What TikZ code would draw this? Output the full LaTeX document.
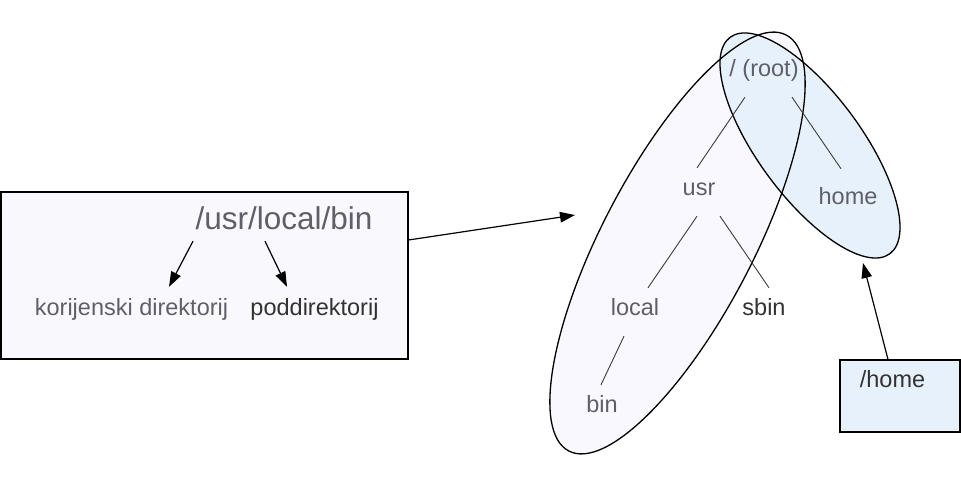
\documentclass[tikz,border=0pt]{standalone}
\usepackage{fontspec}
\setmainfont{Liberation Sans}
\usetikzlibrary{shapes.geometric, arrows.meta, positioning}
\definecolor{boxfill}{RGB}{249, 249, 253}
\definecolor{setfill}{RGB}{248, 248, 254}
\definecolor{rootfill}{RGB}{231, 241, 252}
\definecolor{labelgray}{RGB}{95, 95, 105}
\definecolor{darktext}{RGB}{50, 50, 50}
\definecolor{treegray}{RGB}{60, 60, 60}
\tikzset{
    boxnode/.style = {draw, rectangle, line width=1.1pt, inner sep=0pt},
    ellipsenode/.style = {draw, ellipse, line width=1.3pt, inner sep=0pt},
    titlenode/.style = {anchor=base, inner sep=0pt, text height=22pt, text depth=11pt,
      font=\fontsize{31.5}{38}\selectfont, text=labelgray},
    labelnode/.style = {anchor=base, inner sep=0pt, text height=29pt, text depth=6pt,
      font=\fontsize{23.5}{28}\selectfont, text=labelgray},
    treenode/.style = {anchor=base, inner sep=0pt, text height=28pt, text depth=20pt,
      font=\fontsize{23.5}{28}\selectfont, text=labelgray},
    connect/.style = {black, line width=1.2pt, -{Triangle[length=15pt, width=10.5pt]}},
    branch/.style = {treegray, line width=0.9pt}
}

\begin{document}
\begin{tikzpicture}[x=1pt, y=1pt]
\useasboundingbox (0,0) rectangle (961,486);
% left box with the path
\node [name=pathbox, boxnode, fill=boxfill, minimum width=407pt, minimum height=167pt] at (204.5,210.5) {};
\node [name=title, titlenode] at (284,256) {/usr/local/bin};
\node [name=rootdir, labelnode] at (131.5,170) {korijenski direktorij};
\node [name=subdir, labelnode, text=darktext] at (314.5,170) {poddirektorij};
\draw [connect] ([xshift=-91pt]title.south) -- ([xshift=37.5pt]rootdir.north);
\draw [connect] ([xshift=-19pt]title.south) -- ([xshift=-27.5pt]subdir.north);
% sets round the tree
\node [name=usrset, ellipsenode, fill=setfill, minimum width=469.4pt, minimum height=150.8pt, rotate=62.4] at (677.5,243) {};
\node [name=homeset, ellipsenode, fill=rootfill, blend mode=darken, minimum width=269pt, minimum height=103.4pt, rotate=-53.6] at (810,340.5) {};
% tree
\node [name=root, treenode] at (764,409) {/ (root)};
\node [name=usr, treenode] at (699,290) {usr};
\node [name=home, treenode] at (848,281) {home};
\node [name=local, treenode] at (635,170) {local};
\node [name=sbin, treenode, text=darktext] at (764,170) {sbin};
\node [name=bin, treenode] at (602,73) {bin};
\draw [branch] ([xshift=-19pt]root.south) -- ([xshift=-2pt]usr.north);
\draw [branch] ([xshift=28pt]root.south) -- ([shift={(-7pt,8pt)}]home.north);
\draw [branch] ([xshift=-2pt]usr.south) -- ([xshift=13pt]local.north);
\draw [branch] ([xshift=21pt]usr.south) -- ([xshift=5pt]sbin.north);
\draw [branch] ([xshift=-11pt]local.south) -- ([xshift=-1pt]bin.north);
% home box
\node [name=homebox, boxnode, fill=rootfill, minimum width=120pt, minimum height=72pt] at (900,90) {};
\node [name=homepath, labelnode, text=darktext] at (892.5,98) {/home};
\coordinate (treetip) at (575,271);
\coordinate (hometip) at (863,223);
\draw [connect] ([yshift=35.5pt]pathbox.east) -- (treetip);
\draw [connect] ([xshift=-12pt]homebox.north) -- (hometip);
\end{tikzpicture}
\end{document}
